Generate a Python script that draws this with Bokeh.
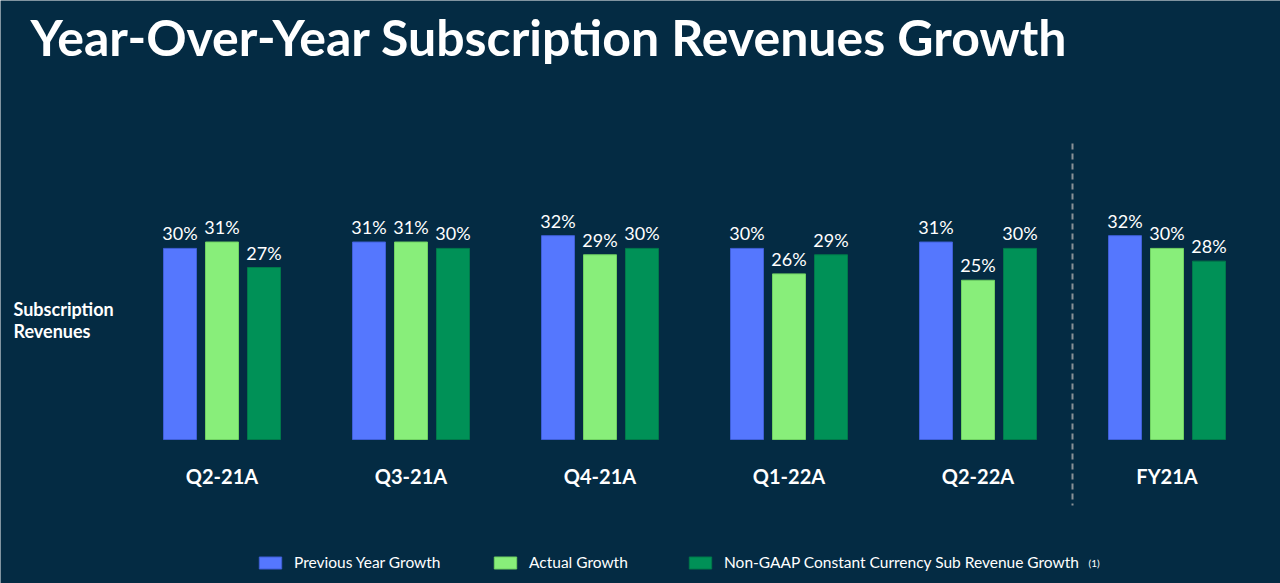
from bokeh.plotting import figure
from bokeh.models import Range1d, Label, Legend, LegendItem, ColumnDataSource
from bokeh.core.properties import value
from bokeh.embed import file_html
from bokeh.resources import INLINE

categories = ["Q2-21A", "Q3-21A", "Q4-21A", "Q1-22A", "Q2-22A", "FY21A"]
previous_year = [30, 31, 32, 30, 31, 32]
actual = [31, 31, 29, 26, 25, 30]
constant_currency = [27, 30, 30, 29, 30, 28]
series_names = ["Previous Year Growth", "Actual Growth",
                "Non-GAAP Constant Currency Sub Revenue Growth"]

BG = "#042b43"
COLORS = ["#5577fe", "#88ee7a", "#009157"]
EDGES = ["#3f5fd6", "#6fd062", "#00784a"]
FONT = "Lato"

W, H = 1280, 583
STEP = 189.0          # px per group
X0 = 221.5            # px of first group centre
PPU = 6.37            # px per percentage point
BASE = 439.0          # px of zero line from top

p = figure(width=W, height=H, output_backend="svg", toolbar_location=None,
           min_border=0, min_border_left=0, min_border_right=0,
           min_border_top=0, min_border_bottom=0)
p.x_range = Range1d(-X0 / STEP, (W - X0) / STEP)
p.y_range = Range1d(-(H - BASE) / PPU, BASE / PPU)
p.axis.visible = False
p.grid.visible = False
p.outline_line_color = None
p.background_fill_color = BG
p.border_fill_color = BG

bar_w = 33 / STEP
offsets = [-42 / STEP, 0.0, 42 / STEP]
idx = list(range(len(categories)))
renderers = []
for vals, off, col, edge in zip([previous_year, actual, constant_currency], offsets, COLORS, EDGES):
    xs = [i + off for i in idx]
    src = ColumnDataSource(dict(x=xs, top=vals, lab=[f"{v}%" for v in vals],
                                ly=[v + 15 / PPU for v in vals]))
    r = p.vbar(x="x", top="top", bottom=0, width=bar_w, source=src,
               fill_color=col, line_color=edge, line_width=1)
    renderers.append(r)
    p.text(x="x", y="ly", text="lab", source=src, text_color="white",
           text_font=value(FONT), text_font_size="18px",
           text_align="center", text_baseline="middle")

# category labels
cat_src = ColumnDataSource(dict(x=idx, y=[-(475.5 - BASE) / PPU] * len(idx), t=categories))
p.text(x="x", y="y", text="t", source=cat_src, text_color="white",
       text_font=value(FONT), text_font_style="bold", text_font_size="20px",
       text_align="center", text_baseline="middle")

# divider between quarters and full year
div_x = 4.5
p.segment(x0=[div_x], y0=[(BASE - 143) / PPU], x1=[div_x], y1=[-(505 - BASE) / PPU],
          line_color="#8a9298", line_width=2, line_dash="6 4")

# title
p.add_layout(Label(x=30, y=H - 36, x_units="screen", y_units="screen",
                   text="Year-Over-Year Subscription Revenues Growth",
                   text_color="white", text_font=FONT, text_font_style="bold",
                   text_font_size="50px", text_baseline="middle"))

# row label
for t, yy in [("Subscription", 308), ("Revenues", 330)]:
    p.add_layout(Label(x=13, y=H - yy, x_units="screen", y_units="screen",
                       text=t, text_color="white", text_font=FONT,
                       text_font_style="bold", text_font_size="18px",
                       text_baseline="middle"))

# legend: one entry per legend box so the swatches sit where the reference has them
for name, r, lx in zip(series_names, renderers, [256, 491, 686]):
    lg = Legend(items=[LegendItem(label=name, renderers=[r])],
                orientation="horizontal", location=(lx, 12),
                background_fill_alpha=0, border_line_color=None,
                label_text_color="white", label_text_font=FONT,
                label_text_font_size="15.5px", glyph_width=28, glyph_height=15,
                label_height=15, label_standoff=10, spacing=0, padding=0, margin=0)
    p.add_layout(lg, "center")

p.add_layout(Label(x=1088, y=H - 562, x_units="screen", y_units="screen",
                   text="(1)", text_color="white", text_font=FONT,
                   text_font_size="10px", text_baseline="middle"))

open("out.html", "w").write(file_html(p, INLINE))
